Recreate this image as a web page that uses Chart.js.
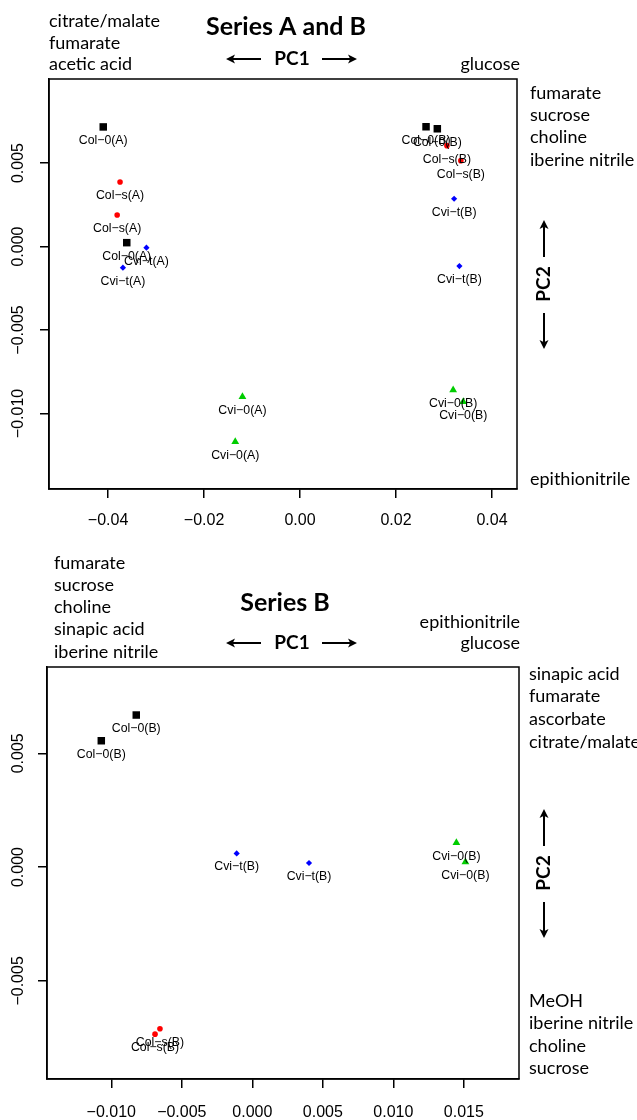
<!DOCTYPE html>
<html>
<head>
<meta charset="utf-8">
<script src="https://cdn.jsdelivr.net/npm/chart.js@4.4.1/dist/chart.umd.min.js"></script>
<style>
  body { margin: 0; background: #fff; }
  .panel { position: relative; width: 637px; }
  #topWrap { height: 540px; }
  #botWrap { height: 580px; }
</style>
</head>
<body>
<div class="panel" id="topWrap"><canvas id="topChart"></canvas></div>
<div class="panel" id="botWrap"><canvas id="botChart"></canvas></div>
<script>
// ---- Series A and B (top panel) ----
const topCol0X = [-0.0410, -0.0361, 0.02625, 0.0286];
const topCol0Y = [0.00716, 0.00023, 0.00717, 0.00705];
const topCol0Lab = ['Col−0(A)', 'Col−0(A)', 'Col−0(B)', 'Col−0(B)'];

const topColsX = [-0.0375, -0.0381, 0.0306, 0.0335];
const topColsY = [0.00386, 0.00189, 0.00604, 0.00514];
const topColsLab = ['Col−s(A)', 'Col−s(A)', 'Col−s(B)', 'Col−s(B)'];

const topCvitX = [-0.0320, -0.0369, 0.0321, 0.0332];
const topCvitY = [-0.00007, -0.00127, 0.00286, -0.00117];
const topCvitLab = ['Cvi−t(A)', 'Cvi−t(A)', 'Cvi−t(B)', 'Cvi−t(B)'];

const topCvi0X = [-0.0120, -0.0135, 0.0319, 0.0340];
const topCvi0Y = [-0.0090, -0.01169, -0.00859, -0.00929];
const topCvi0Lab = ['Cvi−0(A)', 'Cvi−0(A)', 'Cvi−0(B)', 'Cvi−0(B)'];

const topXTicks = [-0.04, -0.02, 0.00, 0.02, 0.04];
const topYTicks = [-0.010, -0.005, 0.000, 0.005];

// ---- Series B (bottom panel) ----
const botCol0X = [-0.00823, -0.01071];
const botCol0Y = [0.00668, 0.00555];
const botCol0Lab = ['Col−0(B)', 'Col−0(B)'];

const botColsX = [-0.00690, -0.00655];
const botColsY = [-0.00734, -0.00710];
const botColsLab = ['Col−s(B)', 'Col−s(B)'];

const botCvitX = [-0.00111, 0.00402];
const botCvitY = [0.00060, 0.00018];
const botCvitLab = ['Cvi−t(B)', 'Cvi−t(B)'];

const botCvi0X = [0.01447, 0.01511];
const botCvi0Y = [0.00107, 0.00022];
const botCvi0Lab = ['Cvi−0(B)', 'Cvi−0(B)'];

const botXTicks = [-0.010, -0.005, 0.000, 0.005, 0.010, 0.015];
const botYTicks = [-0.005, 0.000, 0.005];

const TEXT_FONT = 'Lato, "Open Sans", sans-serif';
const AXIS_FONT = '"Liberation Sans", Arial, sans-serif';

function pts(xs, ys) {
    return xs.map((x, i) => ({ x: x, y: ys[i] }));
}

function fmt(v, digits) {
    const s = Math.abs(v).toFixed(digits);
    return v < -1e-12 ? '−' + s : s;
}

function makeSets(g) {
    return [
        { data: pts(g.col0X, g.col0Y), names: g.col0Lab, pointStyle: 'rect', radius: 5.3, backgroundColor: '#000', borderWidth: 0 },
        { data: pts(g.colsX, g.colsY), names: g.colsLab, pointStyle: 'circle', radius: 2.8, backgroundColor: '#ff0000', borderWidth: 0 },
        { data: pts(g.cvitX, g.cvitY), names: g.cvitLab, pointStyle: 'rectRot', radius: 3.1, backgroundColor: '#0000ff', borderWidth: 0 },
        { data: pts(g.cvi0X, g.cvi0Y), names: g.cvi0Lab, pointStyle: 'triangle', radius: 4.5, backgroundColor: '#00cd00', borderWidth: 0 }
    ];
}

function axis(min, max, ticks, digits, isY, size, pad) {
    return {
        type: 'linear',
        position: isY ? 'left' : 'bottom',
        min: min,
        max: max,
        afterBuildTicks: s => { s.ticks = ticks.map(v => ({ value: v })); },
        afterFit: s => { if (isY) s.width = size; else s.height = size; },
        border: { display: true, color: '#000', width: 1.5 },
        grid: { drawOnChartArea: false, drawTicks: true, tickLength: 9, color: '#000', lineWidth: 1.5 },
        ticks: {
            color: '#000',
            font: { family: AXIS_FONT, size: 16 },
            padding: pad,
            minRotation: isY ? 90 : 0,
            maxRotation: isY ? 90 : 0,
            crossAlign: isY ? 'center' : 'near',
            callback: v => fmt(v, digits)
        }
    };
}

// sample names under each marker
const pointNames = {
    id: 'pointNames',
    afterDatasetsDraw(chart) {
        const ctx = chart.ctx;
        ctx.save();
        ctx.font = '12.3px ' + AXIS_FONT;
        ctx.fillStyle = '#000';
        ctx.textAlign = 'center';
        ctx.textBaseline = 'middle';
        chart.data.datasets.forEach((ds, i) => {
            chart.getDatasetMeta(i).data.forEach((el, j) => {
                ctx.fillText(ds.names[j], el.x, el.y + 13.5);
            });
        });
        ctx.restore();
    }
};

// R style box round the plot region
const frame = {
    id: 'frame',
    afterDraw(chart) {
        const a = chart.chartArea, ctx = chart.ctx;
        ctx.save();
        ctx.strokeStyle = '#000';
        ctx.lineWidth = 1.5;
        ctx.strokeRect(a.left, a.top, a.right - a.left, a.bottom - a.top);
        ctx.restore();
    }
};

function arrow(ctx, x1, y1, x2, y2) {
    const a = Math.atan2(y2 - y1, x2 - x1), h = 9, w = 4.5;
    ctx.beginPath();
    ctx.moveTo(x1, y1);
    ctx.lineTo(x2 - Math.cos(a) * h * 0.7, y2 - Math.sin(a) * h * 0.7);
    ctx.stroke();
    ctx.beginPath();
    ctx.moveTo(x2, y2);
    ctx.lineTo(x2 - h * Math.cos(a) + w * Math.sin(a), y2 - h * Math.sin(a) - w * Math.cos(a));
    ctx.lineTo(x2 - h * 0.75 * Math.cos(a), y2 - h * 0.75 * Math.sin(a));
    ctx.lineTo(x2 - h * Math.cos(a) - w * Math.sin(a), y2 - h * Math.sin(a) + w * Math.cos(a));
    ctx.closePath();
    ctx.fill();
}

function notesPlugin(cfg) {
    return {
        id: 'notes',
        afterDraw(chart) {
            const ctx = chart.ctx;
            ctx.save();
            ctx.fillStyle = '#000';
            ctx.strokeStyle = '#000';
            ctx.textBaseline = 'middle';

            ctx.font = '18px ' + TEXT_FONT;
            cfg.lines.forEach(l => {
                ctx.textAlign = l.align || 'left';
                ctx.fillText(l.text, l.x, l.y);
            });

            ctx.textAlign = 'center';
            ctx.font = 'bold 25px ' + TEXT_FONT;
            ctx.fillText(cfg.title, cfg.titleX, cfg.titleY);

            // PC1 with arrows
            ctx.font = 'bold 19px ' + TEXT_FONT;
            ctx.lineWidth = 2;
            ctx.fillText('PC1', cfg.pc1X, cfg.pc1Y);
            arrow(ctx, cfg.pc1X - 31, cfg.pc1Y, cfg.pc1X - 66, cfg.pc1Y);
            arrow(ctx, cfg.pc1X + 30, cfg.pc1Y, cfg.pc1X + 65, cfg.pc1Y);

            // PC2 rotated with arrows
            ctx.save();
            ctx.translate(cfg.pc2X, cfg.pc2Y);
            ctx.rotate(-Math.PI / 2);
            ctx.fillText('PC2', 0, 0);
            ctx.restore();
            arrow(ctx, cfg.pc2X, cfg.pc2Y - 27, cfg.pc2X, cfg.pc2Y - 64);
            arrow(ctx, cfg.pc2X, cfg.pc2Y + 29, cfg.pc2X, cfg.pc2Y + 65);
            ctx.restore();
        }
    };
}

function buildChart(id, sets, xAxis, yAxis, padding, notes) {
    const ctx = document.getElementById(id).getContext('2d');
    return new Chart(ctx, {
        type: 'scatter',
        data: { datasets: sets },
        options: {
            responsive: true,
            maintainAspectRatio: false,
            animation: false,
            layout: { padding: padding },
            plugins: { legend: { display: false }, tooltip: { enabled: false } },
            scales: { x: xAxis, y: yAxis }
        },
        plugins: [pointNames, frame, notesPlugin(notes)]
    });
}

buildChart('topChart',
    makeSets({
        col0X: topCol0X, col0Y: topCol0Y, col0Lab: topCol0Lab,
        colsX: topColsX, colsY: topColsY, colsLab: topColsLab,
        cvitX: topCvitX, cvitY: topCvitY, cvitLab: topCvitLab,
        cvi0X: topCvi0X, cvi0Y: topCvi0Y, cvi0Lab: topCvi0Lab
    }),
    axis(-0.0523, 0.0452, topXTicks, 2, false, 51, 13),
    axis(-0.01452, 0.01003, topYTicks, 3, true, 49, -3),
    { top: 79, right: 120, bottom: 0, left: 0 },
    {
        title: 'Series A and B', titleX: 286, titleY: 27,
        pc1X: 292, pc1Y: 59, pc2X: 544, pc2Y: 284,
        lines: [
            { text: 'citrate/malate', x: 49, y: 21 },
            { text: 'fumarate', x: 49, y: 43 },
            { text: 'acetic acid', x: 49, y: 64 },
            { text: 'glucose', x: 520, y: 64, align: 'right' },
            { text: 'fumarate', x: 530, y: 93 },
            { text: 'sucrose', x: 530, y: 115 },
            { text: 'choline', x: 530, y: 137 },
            { text: 'iberine nitrile', x: 530, y: 160 },
            { text: 'epithionitrile', x: 530, y: 479 }
        ]
    });

buildChart('botChart',
    makeSets({
        col0X: botCol0X, col0Y: botCol0Y, col0Lab: botCol0Lab,
        colsX: botColsX, colsY: botColsY, colsLab: botColsLab,
        cvitX: botCvitX, cvitY: botCvitY, cvitLab: botCvitLab,
        cvi0X: botCvi0X, cvi0Y: botCvi0Y, cvi0Lab: botCvi0Lab
    }),
    axis(-0.01456, 0.01891, botXTicks, 3, false, 41, 15),
    axis(-0.00931, 0.00879, botYTicks, 3, true, 47, -5),
    { top: 127, right: 118, bottom: 0, left: 0 },
    {
        title: 'Series B', titleX: 285, titleY: 63,
        pc1X: 292, pc1Y: 103, pc2X: 544, pc2Y: 333,
        lines: [
            { text: 'fumarate', x: 54, y: 23 },
            { text: 'sucrose', x: 54, y: 45 },
            { text: 'choline', x: 54, y: 67 },
            { text: 'sinapic acid', x: 54, y: 89 },
            { text: 'iberine nitrile', x: 54, y: 112 },
            { text: 'epithionitrile', x: 520, y: 82, align: 'right' },
            { text: 'glucose', x: 520, y: 103, align: 'right' },
            { text: 'sinapic acid', x: 529, y: 134 },
            { text: 'fumarate', x: 529, y: 156 },
            { text: 'ascorbate', x: 529, y: 179 },
            { text: 'citrate/malate', x: 529, y: 202 },
            { text: 'MeOH', x: 529, y: 461 },
            { text: 'iberine nitrile', x: 529, y: 483 },
            { text: 'choline', x: 529, y: 506 },
            { text: 'sucrose', x: 529, y: 528 }
        ]
    });
</script>
</body>
</html>
